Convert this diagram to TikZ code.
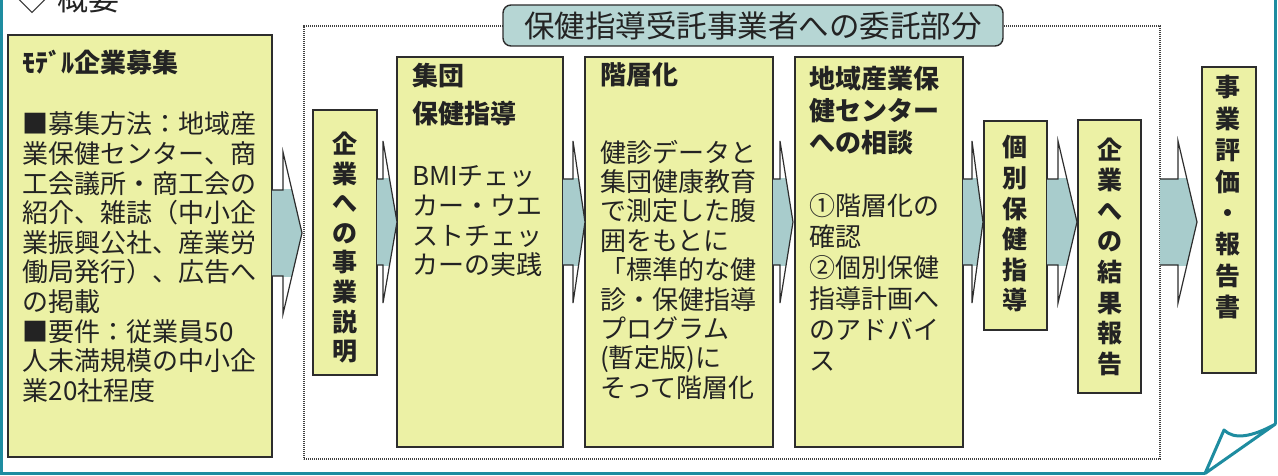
\documentclass[tikz,border=0pt]{standalone}
\usepackage{fontspec}
\setmainfont{Noto Sans CJK JP}
\usetikzlibrary{calc}
\definecolor{boxfill}{RGB}{236,241,165}
\definecolor{boxline}{RGB}{45,45,45}
\definecolor{arrowfill}{RGB}{168,204,204}
\definecolor{tabfill}{RGB}{182,214,212}
\definecolor{framecol}{RGB}{30,140,160}
\definecolor{ink}{RGB}{35,35,35}
\newcommand\flowarrow[5]{%
  \coordinate (yc) at (0,#4);
  \coordinate (s) at (#1.east |- yc);
  \coordinate (t) at ($(#2.west |- yc)+(-#5,0)$);
  \coordinate (h) at ($(t)+(-#3,0)$);
  \begin{scope}
    \clip ($(s)+(0,-43)$) rectangle ($(t)+(0,43)$);
    \fill[arrowfill] ($(s)+(0,-43)$) -- ($(h)+(0,-43)$) -- ($(h)+(0,-81)$) -- (t) -- ($(h)+(0,81)$) -- ($(h)+(0,43)$) -- ($(s)+(0,43)$) -- cycle;
  \end{scope}
  \draw[arrowline] ($(s)+(0,-43)$) -- ($(h)+(0,-43)$) -- ($(h)+(0,-81)$) -- (t) -- ($(h)+(0,81)$) -- ($(h)+(0,43)$) -- ($(s)+(0,43)$);
}
\begin{document}
\begin{tikzpicture}[x=1pt,y=-1pt,
  box/.style={draw=boxline, line width=1.6pt, fill=boxfill, anchor=north west, inner sep=0pt, outer sep=0pt},
  txt/.style={anchor=north west, inner sep=0pt, outer sep=0pt, align=left, text=ink, font=\fontsize{26}{29.6}\selectfont},
  ttl/.style={anchor=north west, inner sep=0pt, outer sep=0pt, align=left, text=ink, font=\bfseries\fontsize{26}{33}\selectfont},
  vtxt/.style={anchor=north, inner sep=0pt, outer sep=0pt, align=center, text=ink, font=\bfseries\fontsize{25}{30.6}\selectfont},
  arrowline/.style={draw=boxline, line width=1.2pt, line join=miter},
  dotframe/.style={draw=black!75, line width=1.4pt, dash pattern=on 1.2pt off 0.8pt, anchor=north west, inner sep=0pt, outer sep=0pt},
  tabbox/.style={draw=boxline, line width=1.4pt, fill=tabfill, rounded corners=8pt, inner sep=0pt, outer sep=0pt, text=ink, font=\fontsize{30.5}{32}\selectfont},
  tealline/.style={draw=framecol, line width=3pt}
]
\useasboundingbox (0,0) rectangle (1278,476);
% heading
\node[anchor=base, inner sep=0pt, text=ink, font=\fontsize{30}{32}\selectfont] (dia) at (32,11) {◇};
\node[anchor=base west, inner sep=0pt, text=ink, font=\fontsize{31}{32}\selectfont] (head) at (57,11) {概要};
% teal page frame
\draw[tealline] (1.5,-5) -- (1.5,473.5) -- (1205,473.5);
\draw[tealline] (1275.5,-5) -- (1275.5,424);
\filldraw[tealline, fill=white, line join=round] (1205,473.5) -- (1275.5,424) .. controls (1252,437) and (1234,440) .. (1224,430) -- cycle;
% dotted consignment frame
\node[dotframe, minimum width=856pt, minimum height=433pt] (frame) at (304,26) {};
\node[tabbox, minimum width=500pt, minimum height=41pt] (tab) at (753,25.5) {保健指導受託事業者への委託部分};
% boxes
\node[box, minimum width=264pt, minimum height=422pt] (recruit) at (8,35) {};
\node[box, minimum width=64pt, minimum height=265pt] (explain) at (313,110) {};
\node[box, minimum width=166pt, minimum height=390pt] (group) at (397,57) {};
\node[box, minimum width=188pt, minimum height=390pt] (strat) at (585,57) {};
\node[box, minimum width=168pt, minimum height=390pt] (consult) at (795,57) {};
\node[box, minimum width=63pt, minimum height=209pt] (indiv) at (984,121) {};
\node[box, minimum width=63pt, minimum height=273pt] (result) at (1078,120) {};
\node[box, minimum width=54pt, minimum height=306pt] (evalbox) at (1202,67) {};
% arrows
\flowarrow{recruit}{frame}{19}{233}{2}
\flowarrow{explain}{group}{14}{222}{0}
\flowarrow{group}{strat}{12}{222}{0}
\flowarrow{strat}{consult}{13}{222}{2}
\flowarrow{consult}{indiv}{11}{222}{1}
\flowarrow{indiv}{result}{19}{222}{1}
\flowarrow{frame}{evalbox}{19}{222}{5}
% texts
\node[ttl] (t-recruit) at (23,50) {ﾓﾃﾞﾙ企業募集};
\node[txt] (b-recruit) at (23,112) {■募集方法：地域産\\業保健センター、商\\工会議所・商工会の\\紹介、雑誌（中小企\\業振興公社、産業労\\働局発行）、広告へ\\の掲載\\■要件：従業員50\\人未満規模の中小企\\業20社程度};
\node[vtxt, font=\bfseries\fontsize{25}{29.6}\selectfont] (v-explain) at (345,132) {企\\業\\へ\\の\\事\\業\\説\\明};
\node[ttl, font=\bfseries\fontsize{26}{38}\selectfont] (t-group) at (412,63) {集団\\保健指導};
\node[txt] (b-group) at (412,166) {BMIチェッ\\カー・ウエ\\ストチェッ\\カーの実践};
\node[ttl] (t-strat) at (600,63) {階層化};
\node[txt, font=\fontsize{26}{29.4}\selectfont] (b-strat) at (600,140) {健診データと\\集団健康教育\\で測定した腹\\囲をもとに\\「標準的な健\\診・保健指導\\プログラム\\(暫定版)に\\そって階層化};
\node[ttl, font=\bfseries\fontsize{26}{32}\selectfont] (t-consult) at (809,66) {地域産業保\\健センター\\への相談};
\node[txt, font=\fontsize{26}{31}\selectfont] (b-consult) at (809,194) {①階層化の\\確認\\②個別保健\\指導計画へ\\のアドバイ\\ス};
\node[vtxt] (v-indiv) at (1015,135.5) {個\\別\\保\\健\\指\\導};
\node[vtxt] (v-result) at (1110,137.5) {企\\業\\へ\\の\\結\\果\\報\\告};
\node[vtxt, font=\bfseries\fontsize{25}{31.4}\selectfont] (v-eval) at (1228,75.5) {事\\業\\評\\価\\・\\報\\告\\書};
\end{tikzpicture}
\end{document}
